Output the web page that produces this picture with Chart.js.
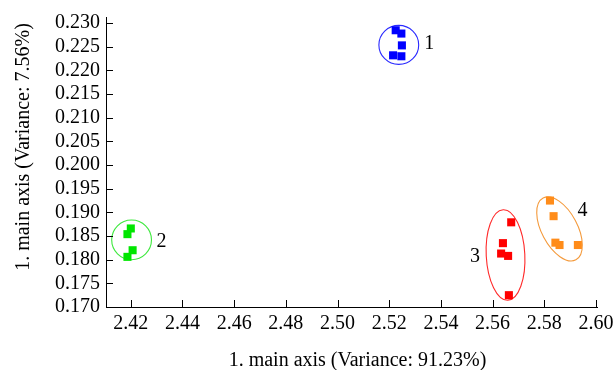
<!DOCTYPE html>
<html>
<head>
<meta charset="utf-8">
<script src="https://cdn.jsdelivr.net/npm/chart.js@4.4.1/dist/chart.umd.min.js"></script>
<style>
html,body{margin:0;padding:0;background:#fff;}
#wrap{width:614px;height:370px;position:relative;}
</style>
</head>
<body>
<div id="wrap"><canvas id="c"></canvas></div>
<script>
// ---- data ----
const xTicks = [2.42, 2.44, 2.46, 2.48, 2.50, 2.52, 2.54, 2.56, 2.58, 2.60];
const yTicks = [0.170, 0.175, 0.180, 0.185, 0.190, 0.195, 0.200, 0.205, 0.210, 0.215, 0.220, 0.225, 0.230];
const xTitle = "1. main axis (Variance: 91.23%)";
const yTitle = "1. main axis (Variance: 7.56%)";

const group1X = [2.5225, 2.5247, 2.5249, 2.5215, 2.5247];
const group1Y = [0.2285, 0.2278, 0.2253, 0.2232, 0.2230];
const group2X = [2.4200, 2.4187, 2.4207, 2.4187];
const group2Y = [0.1866, 0.1854, 0.1820, 0.1806];
const group3X = [2.5672, 2.5640, 2.5633, 2.5660, 2.5663];
const group3Y = [0.1879, 0.1835, 0.1813, 0.1808, 0.1725];
const group4X = [2.5822, 2.5836, 2.5843, 2.5859, 2.5930];
const group4Y = [0.1925, 0.1892, 0.1836, 0.1831, 0.1831];

// cluster ellipses (centre and half-widths in data units, rotation in degrees)
const ellCX = [2.5237, 2.4203, 2.5650, 2.5859];
const ellCY = [0.2254, 0.1842, 0.1810, 0.1865];
const ellRX = [0.0077, 0.0077, 0.00747, 0.00693];
const ellRY = [0.00412, 0.0042, 0.00957, 0.00739];
const ellRot = [0, 0, -3, -28];

const groupLabels = ["1", "2", "3", "4"];
const labelX = [2.5355, 2.4319, 2.5532, 2.5948];
const labelY = [0.2256, 0.1837, 0.1806, 0.1903];

const pointColors = ["#0000ff", "#00e600", "#ff0000", "#ff8c1a"];
const ellColors = ["#2a2aff", "#3ee83e", "#ff2a2a", "#f49a3c"];

const toPts = (xs, ys) => xs.map((x, i) => ({x: x, y: ys[i]}));
const groups = [toPts(group1X, group1Y), toPts(group2X, group2Y), toPts(group3X, group3Y), toPts(group4X, group4Y)];

const FONT = "'Liberation Serif', 'Times New Roman', serif";

const decorPlugin = {
  id: 'decor',
  beforeDatasetsDraw(chart) {
    const ctx = chart.ctx, xs = chart.scales.x, ys = chart.scales.y;
    ctx.save();
    ctx.lineWidth = 1.1;
    for (let i = 0; i < ellCX.length; i++) {
      const cx = xs.getPixelForValue(ellCX[i]);
      const cy = ys.getPixelForValue(ellCY[i]);
      const rx = Math.abs(xs.getPixelForValue(ellCX[i] + ellRX[i]) - cx);
      const ry = Math.abs(ys.getPixelForValue(ellCY[i] + ellRY[i]) - cy);
      ctx.beginPath();
      ctx.strokeStyle = ellColors[i];
      ctx.ellipse(cx, cy, rx, ry, ellRot[i] * Math.PI / 180, 0, Math.PI * 2);
      ctx.stroke();
    }
    ctx.restore();
  },
  afterDraw(chart) {
    const ctx = chart.ctx, xs = chart.scales.x, ys = chart.scales.y, a = chart.chartArea;
    ctx.save();
    // inward tick marks
    ctx.strokeStyle = '#000';
    ctx.lineWidth = 1;
    ctx.beginPath();
    xs.ticks.forEach((t, i) => {
      const p = Math.round(xs.getPixelForTick(i)) + 0.5;
      ctx.moveTo(p, a.bottom);
      ctx.lineTo(p, a.bottom - 7);
    });
    ys.ticks.forEach((t, i) => {
      const p = Math.round(ys.getPixelForTick(i)) + 0.5;
      ctx.moveTo(a.left, p);
      ctx.lineTo(a.left + 7, p);
    });
    ctx.stroke();
    // cluster numbers
    ctx.fillStyle = '#000';
    ctx.font = "20px " + FONT;
    ctx.textAlign = 'center';
    ctx.textBaseline = 'middle';
    for (let i = 0; i < groupLabels.length; i++) {
      ctx.fillText(groupLabels[i], xs.getPixelForValue(labelX[i]), ys.getPixelForValue(labelY[i]));
    }
    // axis titles
    ctx.fillText(xTitle, (a.left + a.right) / 2 + 6, a.bottom + 54);
    ctx.translate(a.left - 82, (a.top + a.bottom) / 2 - 15);
    ctx.rotate(-Math.PI / 2);
    ctx.fillText(yTitle, 0, 0);
    ctx.restore();
  }
};

new Chart(document.getElementById('c'), {
  type: 'scatter',
  data: {
    datasets: groups.map((g, i) => ({
      label: 'Group ' + groupLabels[i],
      data: g,
      pointStyle: 'rect',
      pointRadius: 5.7,
      pointHoverRadius: 5.7,
      pointBorderWidth: 0,
      borderWidth: 0,
      backgroundColor: pointColors[i],
      borderColor: pointColors[i]
    }))
  },
  options: {
    responsive: true,
    maintainAspectRatio: false,
    animation: false,
    layout: {padding: {left: 0, right: 17, top: 17, bottom: 0}},
    plugins: {legend: {display: false}, tooltip: {enabled: false}},
    scales: {
      x: {
        type: 'linear',
        min: 2.4104,
        max: 2.6004,
        afterBuildTicks(s) { s.ticks = xTicks.map(v => ({value: v})); },
        afterFit(s) { s.height = 63; s.paddingLeft = 0; s.paddingRight = 0; },
        grid: {display: false, drawTicks: false},
        border: {display: true, color: '#000', width: 1},
        ticks: {
          color: '#000',
          font: {family: FONT, size: 20},
          padding: 5,
          maxRotation: 0,
          autoSkip: false,
          callback: v => v.toFixed(2)
        }
      },
      y: {
        type: 'linear',
        min: 0.170,
        max: 0.2313,
        afterBuildTicks(s) { s.ticks = yTicks.map(v => ({value: v})); },
        afterFit(s) { s.width = 106; s.paddingTop = 0; s.paddingBottom = 0; },
        grid: {display: false, drawTicks: false},
        border: {display: true, color: '#000', width: 1},
        ticks: {
          color: '#000',
          font: {family: FONT, size: 20},
          padding: 6,
          autoSkip: false,
          callback: v => v.toFixed(3)
        }
      }
    }
  },
  plugins: [decorPlugin]
});
</script>
</body>
</html>
